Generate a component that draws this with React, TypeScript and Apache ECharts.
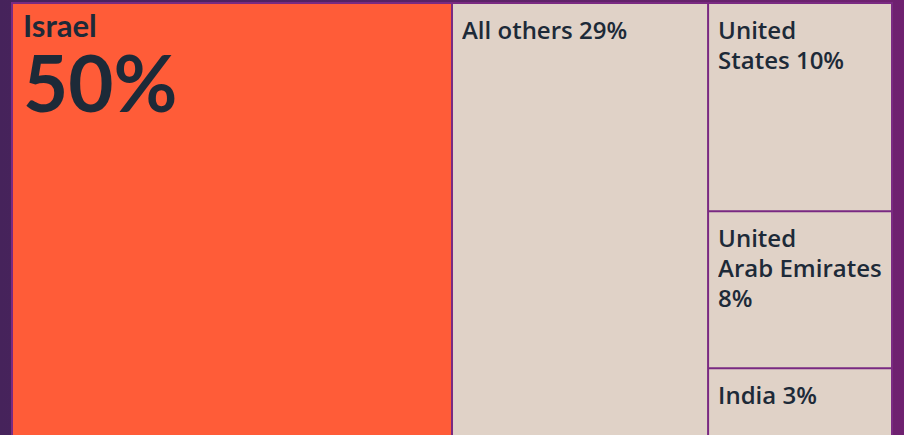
import React, { useEffect, useRef } from "react";
import * as echarts from "echarts";

const names = ["Israel", "All others", "United States", "United Arab Emirates", "India"];
const displayNames = ["Israel", "All others", "United\nStates", "United\nArab Emirates", "India"];
const pctOnNewLine = [true, false, false, true, false];
const values = [50.0, 29.1, 10.0, 7.55, 3.35];
const colors = ["#ff5c38", "#e0d2c7", "#e0d2c7", "#e0d2c7", "#e0d2c7"];

const TEXT = "#1d2a38";

export default function App() {
  const ref = useRef<HTMLDivElement>(null);
  useEffect(() => {
    if (!ref.current) return;
    const chart = echarts.init(ref.current, null, { renderer: "svg" });
    const total = values.reduce((a, b) => a + b, 0);
    const data = names.map((n, i) => {
      const pct = Math.round((values[i] / total) * 100) + "%";
      const isBig = i === 0;
      return {
        name: n,
        value: values[i],
        itemStyle: { color: colors[i] },
        label: isBig
          ? {
              formatter: `{n|${displayNames[i]}}\n{big|${pct}}`,
              padding: [4, 10],
            }
          : {
              formatter: displayNames[i] + (pctOnNewLine[i] ? "\n" : " ") + pct,
            },
      };
    });
    chart.setOption({
      animation: false,
      series: [
        {
          type: "treemap",
          left: 11,
          top: 2,
          width: 882,
          height: 437,
          roam: false,
          nodeClick: false,
          breadcrumb: { show: false },
          squareRatio: 1,
          itemStyle: { borderColor: "#7a2a82", borderWidth: 1, gapWidth: 0 },
          label: {
            show: true,
            position: "insideTopLeft",
            color: TEXT,
            fontFamily: "Open Sans",
            fontWeight: 600,
            fontSize: 24,
            lineHeight: 30,
            padding: [10, 9],
            overflow: "none",
            rich: {
              n: { fontFamily: "Lato", fontWeight: 700, fontSize: 31, lineHeight: 34, color: TEXT },
              big: { fontFamily: "Lato", fontWeight: 700, fontSize: 78, lineHeight: 80, color: TEXT },
            },
          },
          upperLabel: { show: false },
          data,
        },
      ],
    });
    return () => chart.dispose();
  }, []);
  return (
    <div
      style={{
        position: "absolute",
        left: 0,
        top: 0,
        width: 904,
        height: 435,
        background: "linear-gradient(to right, #46235b, #5a2466 50%, #6f2170)",
      }}
    >
      <div ref={ref} style={{ width: 904, height: 435 }} />
    </div>
  );
}
